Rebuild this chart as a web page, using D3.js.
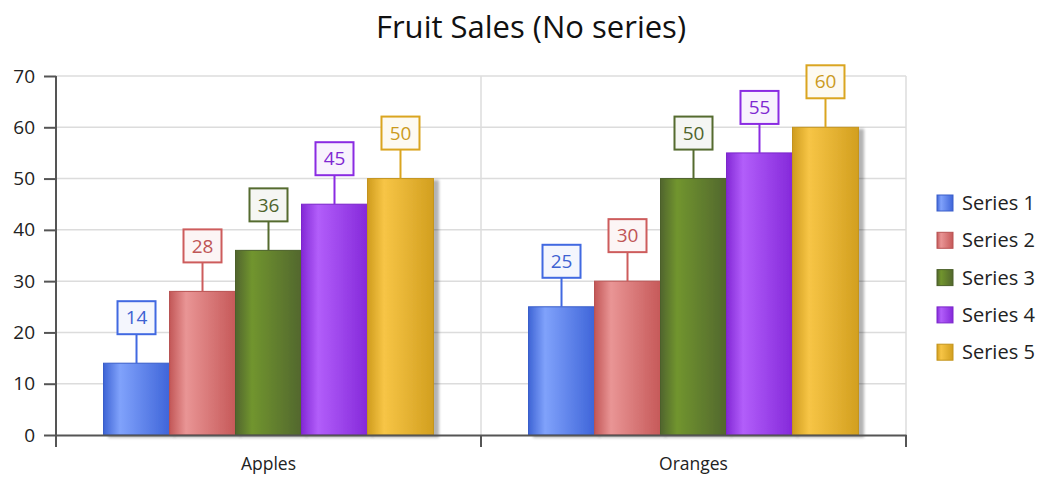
<!DOCTYPE html>
<html>
<head>
<meta charset="utf-8">
<script src="https://cdn.jsdelivr.net/npm/d3@7"></script>
<style>
  body { margin: 0; background: #fff; }
  text { font-family: "Open Sans", sans-serif; }
</style>
</head>
<body>
<script>
// data
var categories = ["Apples", "Oranges"];
var seriesNames = ["Series 1", "Series 2", "Series 3", "Series 4", "Series 5"];
var series1 = [14, 25];
var series2 = [28, 30];
var series3 = [36, 50];
var series4 = [45, 55];
var series5 = [50, 60];
var yTicks = [0, 10, 20, 30, 40, 50, 60, 70];
var title = "Fruit Sales (No series)";

var allSeries = [series1, series2, series3, series4, series5];
var baseColors = ["#4169E1", "#CD5C5C", "#556B2F", "#8A2BE2", "#DAA520"];
var lightColors = ["#80A2FB", "#E99595", "#71952D", "#B25EFA", "#F7C546"];

var width = 1041, height = 483;
var margin = {top: 76, right: 135, bottom: 48, left: 56};

var svg = d3.select("body").append("svg")
    .attr("width", width)
    .attr("height", height);

var defs = svg.append("defs");
baseColors.forEach(function(c, i) {
    var g = defs.append("linearGradient")
        .attr("id", "grad" + i)
        .attr("x1", "0%").attr("x2", "100%")
        .attr("y1", "0%").attr("y2", "0%");
    g.append("stop").attr("offset", "0%").attr("stop-color", d3.color(c).darker(0.15));
    g.append("stop").attr("offset", "25%").attr("stop-color", lightColors[i]);
    g.append("stop").attr("offset", "100%").attr("stop-color", d3.color(c).darker(0.1));
});

var shadow = defs.append("filter").attr("id", "shadow")
    .attr("x", "-10%").attr("y", "-10%").attr("width", "130%").attr("height", "120%");
shadow.append("feOffset").attr("in", "SourceAlpha").attr("dx", 5).attr("dy", 2).attr("result", "off");
shadow.append("feGaussianBlur").attr("in", "off").attr("stdDeviation", 1.5).attr("result", "blur");
shadow.append("feComponentTransfer").attr("in", "blur").attr("result", "sh")
    .append("feFuncA").attr("type", "linear").attr("slope", 0.3);
var merge = shadow.append("feMerge");
merge.append("feMergeNode").attr("in", "sh");
merge.append("feMergeNode").attr("in", "SourceGraphic");

var x0 = d3.scaleBand()
    .domain(categories)
    .range([margin.left, width - margin.right])
    .padding(0);

var x1 = d3.scaleBand()
    .domain(seriesNames)
    .range([0, x0.bandwidth()])
    .paddingInner(0)
    .paddingOuter(0.72);

var y = d3.scaleLinear()
    .domain([0, 70])
    .range([height - margin.bottom, margin.top]);

// title
svg.append("text")
    .attr("x", 531)
    .attr("y", 38)
    .attr("text-anchor", "middle")
    .attr("font-size", 31)
    .attr("fill", "#111")
    .text(title);

// gridlines
svg.append("g").selectAll("line")
    .data(yTicks.slice(1))
    .enter().append("line")
    .attr("x1", margin.left).attr("x2", width - margin.right)
    .attr("y1", function(d) { return y(d); })
    .attr("y2", function(d) { return y(d); })
    .attr("stroke", "#dcdcdc").attr("stroke-width", 1.5);

svg.append("g").selectAll("line")
    .data(categories)
    .enter().append("line")
    .attr("x1", function(d) { return x0(d) + x0.bandwidth(); })
    .attr("x2", function(d) { return x0(d) + x0.bandwidth(); })
    .attr("y1", y(70)).attr("y2", y(0))
    .attr("stroke", "#dcdcdc").attr("stroke-width", 1.5);

// bars
var groups = svg.append("g").selectAll("g")
    .data(categories)
    .enter().append("g")
    .attr("transform", function(d) { return "translate(" + x0(d) + ",0)"; });

groups.selectAll("rect")
    .data(function(d, ci) {
        return allSeries.map(function(s, si) { return {name: seriesNames[si], value: s[ci], i: si}; });
    })
    .enter().append("rect")
    .attr("x", function(d) { return x1(d.name); })
    .attr("y", function(d) { return y(d.value); })
    .attr("width", x1.bandwidth())
    .attr("height", function(d) { return y(0) - y(d.value); })
    .attr("fill", function(d) { return "url(#grad" + d.i + ")"; })
    .attr("stroke", function(d) { return d3.color(baseColors[d.i]).darker(0.3); })
    .attr("stroke-width", 1)
    .attr("filter", "url(#shadow)");

// value labels
var labels = groups.selectAll("g.lbl")
    .data(function(d, ci) {
        return allSeries.map(function(s, si) { return {name: seriesNames[si], value: s[ci], i: si}; });
    })
    .enter().append("g")
    .attr("class", "lbl")
    .attr("transform", function(d) {
        return "translate(" + (x1(d.name) + x1.bandwidth() / 2) + "," + y(d.value) + ")";
    });

labels.append("line")
    .attr("x1", 0).attr("x2", 0)
    .attr("y1", 0).attr("y2", -29)
    .attr("stroke", function(d) { return baseColors[d.i]; })
    .attr("stroke-width", 2);

labels.append("rect")
    .attr("x", -19).attr("y", -62)
    .attr("width", 38).attr("height", 33)
    .attr("fill", function(d) { return d3.interpolateRgb(baseColors[d.i], "#fff")(0.94); })
    .attr("stroke", function(d) { return baseColors[d.i]; })
    .attr("stroke-width", 2);

labels.append("text")
    .attr("x", 0).attr("y", -45.5)
    .attr("dy", "0.35em")
    .attr("text-anchor", "middle")
    .attr("font-size", 19)
    .attr("fill", function(d) { return d3.color(baseColors[d.i]).darker(0.2); })
    .text(function(d) { return d.value; });

// y axis
var yAxis = d3.axisLeft(y).tickValues(yTicks).tickSize(12).tickSizeOuter(0).tickPadding(9);
var yg = svg.append("g")
    .attr("transform", "translate(" + margin.left + ",0)")
    .call(yAxis);
yg.select(".domain").attr("stroke", "#555").attr("stroke-width", 2)
    .attr("d", "M0," + y(70) + "V" + (y(0) + 12));
yg.selectAll(".tick line").attr("stroke", "#555").attr("stroke-width", 2);
yg.selectAll(".tick text").attr("font-size", 19).attr("fill", "#222")
    .style("font-family", "'Open Sans', sans-serif");

// x axis
var xAxis = d3.axisBottom(x0).tickSize(0).tickPadding(23);
var xg = svg.append("g")
    .attr("transform", "translate(0," + y(0) + ")")
    .call(xAxis);
xg.select(".domain").attr("stroke", "#555").attr("stroke-width", 2);
xg.selectAll(".tick text").attr("font-size", 17.5).attr("fill", "#222")
    .style("font-family", "'Open Sans', sans-serif");
xg.selectAll("line.sep")
    .data(categories)
    .enter().append("line")
    .attr("class", "sep")
    .attr("x1", function(d) { return x0(d) + x0.bandwidth(); })
    .attr("x2", function(d) { return x0(d) + x0.bandwidth(); })
    .attr("y1", 0).attr("y2", 12)
    .attr("stroke", "#555").attr("stroke-width", 2);

// legend
var legend = svg.append("g").selectAll("g")
    .data(seriesNames)
    .enter().append("g")
    .attr("transform", function(d, i) { return "translate(937," + (203 + i * 37.3) + ")"; });

legend.append("rect")
    .attr("x", 0).attr("y", -8)
    .attr("width", 16).attr("height", 16)
    .attr("fill", function(d, i) { return "url(#grad" + i + ")"; })
    .attr("stroke", function(d, i) { return d3.color(baseColors[i]).darker(0.3); })
    .attr("stroke-width", 1);

legend.append("text")
    .attr("x", 25).attr("y", 0)
    .attr("dy", "0.35em")
    .attr("font-size", 20)
    .attr("fill", "#222")
    .text(function(d) { return d; });
</script>
</body>
</html>
